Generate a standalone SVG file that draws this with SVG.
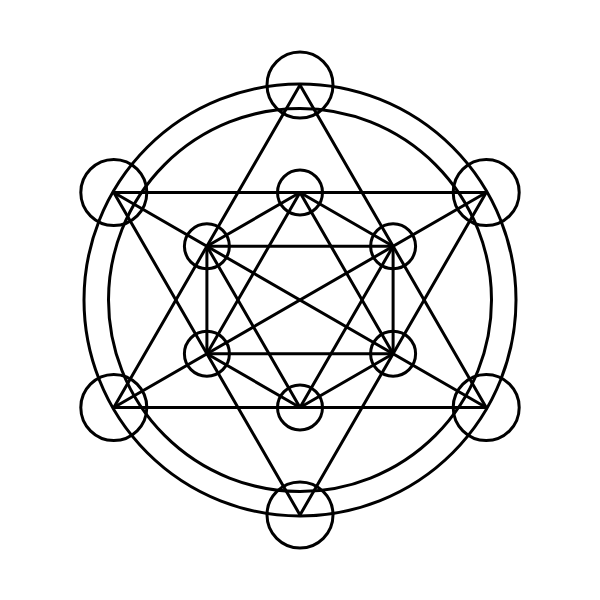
<svg xmlns="http://www.w3.org/2000/svg" width="600" height="600" viewBox="0 0 600 600">
<style>
.s{fill:none;stroke:#000;stroke-width:3;stroke-linecap:round;stroke-linejoin:round}
</style>
<rect width="600" height="600" fill="#fff"/>
<g id="rings" class="s">
<circle cx="300" cy="300" r="216"/>
<circle cx="300" cy="300" r="191.5"/>
</g>
<g id="connectors" class="s">
<polygon points="300,85 486.2,407.5 113.8,407.5"/>
<polygon points="300,515 113.8,192.5 486.2,192.5"/>
<line x1="113.8" y1="192.5" x2="486.2" y2="407.5"/>
<line x1="486.2" y1="192.5" x2="113.8" y2="407.5"/>
<polygon points="300,192.5 393.1,246.25 393.1,353.75 300,407.5 206.9,353.75 206.9,246.25"/>
<line x1="206.9" y1="246.25" x2="393.1" y2="246.25"/>
<line x1="206.9" y1="353.75" x2="393.1" y2="353.75"/>
<line x1="300" y1="192.5" x2="206.9" y2="353.75"/>
<line x1="300" y1="192.5" x2="393.1" y2="353.75"/>
<line x1="300" y1="407.5" x2="206.9" y2="246.25"/>
<line x1="300" y1="407.5" x2="393.1" y2="246.25"/>
</g>
<g id="outer-top" class="s"><circle cx="300" cy="85" r="33"/></g>
<g id="outer-upper-right" class="s"><circle cx="486.2" cy="192.5" r="33"/></g>
<g id="outer-lower-right" class="s"><circle cx="486.2" cy="407.5" r="33"/></g>
<g id="outer-bottom" class="s"><circle cx="300" cy="515" r="33"/></g>
<g id="outer-lower-left" class="s"><circle cx="113.8" cy="407.5" r="33"/></g>
<g id="outer-upper-left" class="s"><circle cx="113.8" cy="192.5" r="33"/></g>
<g id="inner-top" class="s"><circle cx="300" cy="192.5" r="22.5"/></g>
<g id="inner-upper-right" class="s"><circle cx="393.1" cy="246.25" r="22.5"/></g>
<g id="inner-lower-right" class="s"><circle cx="393.1" cy="353.75" r="22.5"/></g>
<g id="inner-bottom" class="s"><circle cx="300" cy="407.5" r="22.5"/></g>
<g id="inner-lower-left" class="s"><circle cx="206.9" cy="353.75" r="22.5"/></g>
<g id="inner-upper-left" class="s"><circle cx="206.9" cy="246.25" r="22.5"/></g>
</svg>
